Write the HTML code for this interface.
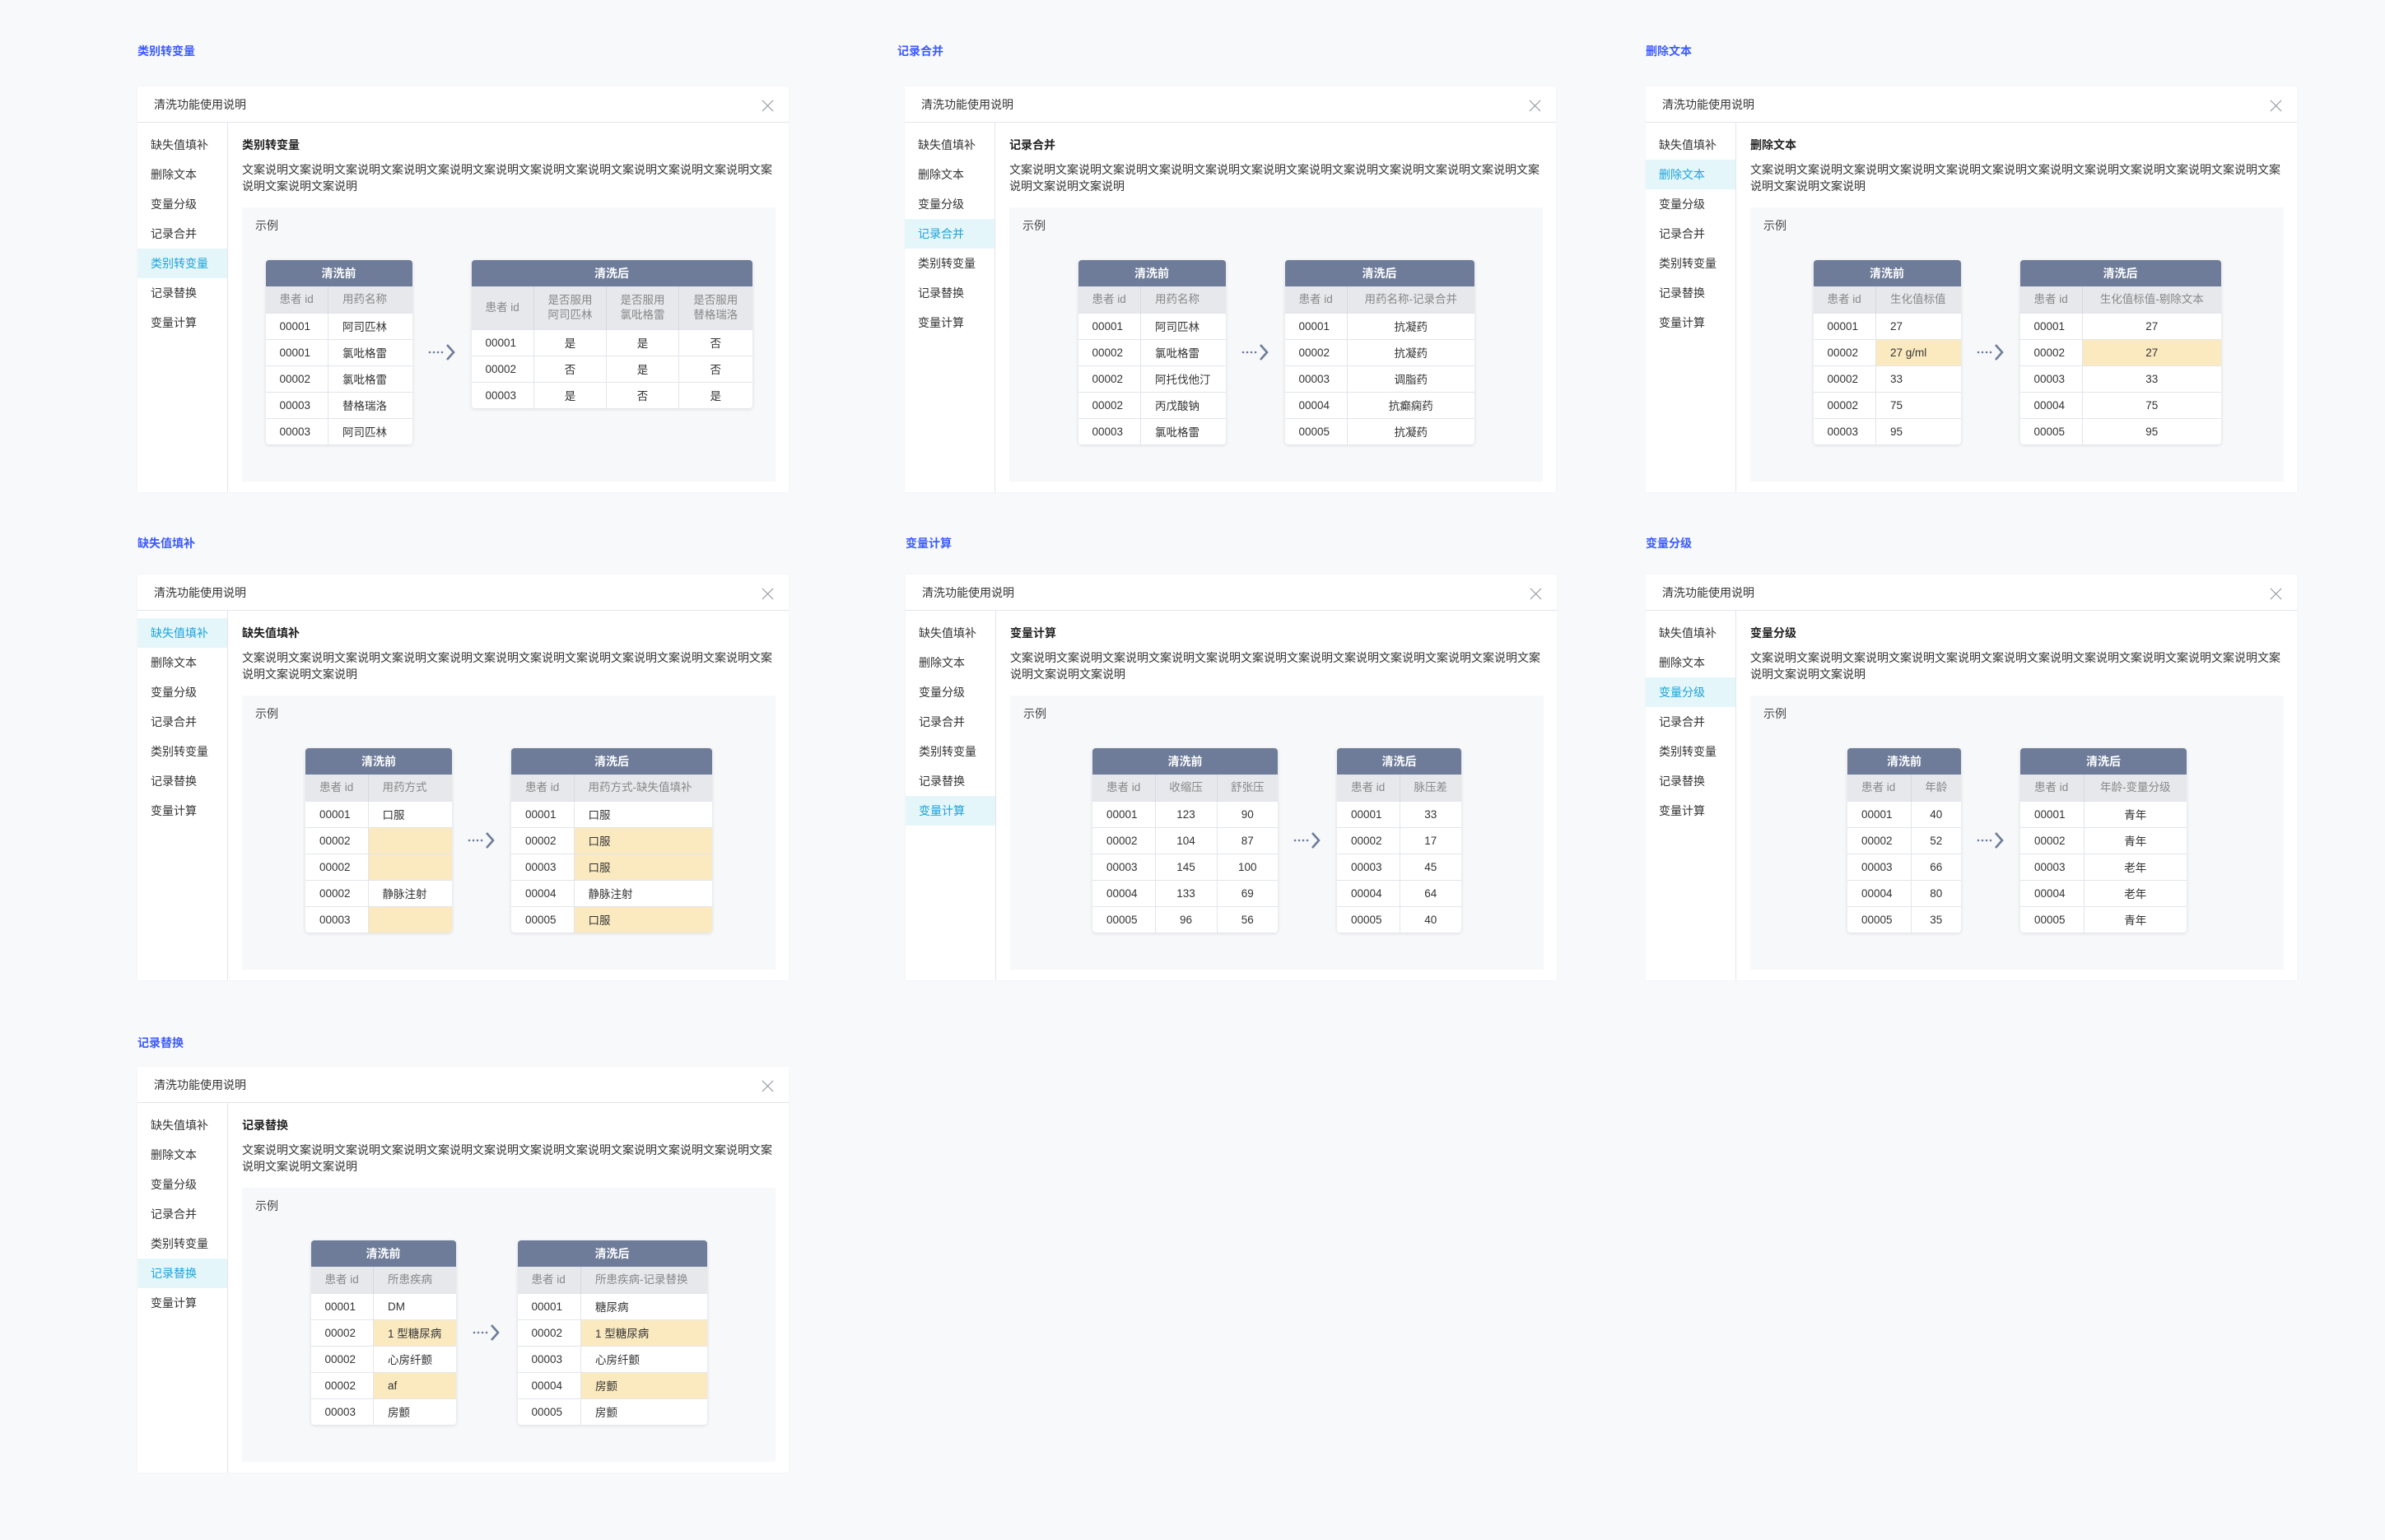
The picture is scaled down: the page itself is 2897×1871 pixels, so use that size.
<!DOCTYPE html>
<html><head><meta charset="utf-8">
<style>
*{margin:0;padding:0;box-sizing:border-box}
body{width:2897px;height:1871px;background:#f8f9fb;font-family:"Liberation Sans","Noto Sans CJK SC",sans-serif;position:relative;overflow:hidden;color:#333}
.st{position:absolute;font-size:14px;color:#3b5bfd;font-weight:bold;line-height:20px}
.p{position:absolute;width:791px;height:493px;background:#fff;box-shadow:0 0 3px rgba(0,0,0,.03)}
.hd{height:44px;border-bottom:1px solid #e3e5ea;line-height:44px;padding-left:20px;font-size:14px;color:#333}
.x{position:absolute;right:18px;top:16px}
.sb{position:absolute;left:0;top:44px;bottom:0;width:110px;border-right:1px solid #e3e5ea;padding-top:9px}
.sb div{height:36px;line-height:36px;padding-left:16px;font-size:14px;color:#333}
.sb div.a{background:#e5f6fb;color:#1ba3d8}
.tt{position:absolute;left:127px;top:61px;font-size:14px;font-weight:bold;line-height:20px;color:#222}
.ds{position:absolute;left:127px;top:91px;width:650px;font-size:14px;line-height:20px;color:#333;word-break:break-all}
.ex{position:absolute;left:127px;top:147px;width:648px;height:333px;background:#f7f8fa}
.el{position:absolute;left:16px;top:12px;font-size:14px;line-height:20px;color:#444}
.tw{position:absolute;left:0;top:64px;width:100%;display:flex;justify-content:center;align-items:flex-start}
.ar{width:72px;align-self:stretch;display:flex;align-items:center;justify-content:center;min-height:180px}
.tb{border-radius:4px;overflow:hidden;box-shadow:0 1px 4px rgba(0,0,0,.12);background:#fff}
table{border-collapse:collapse;table-layout:fixed;font-size:13.5px}
th.h{background:#6e7c99;color:#fff;height:32px;font-weight:bold;font-size:14px;text-align:center}
th.c{background:#e6e8ec;color:#888;font-weight:normal;height:32px;text-align:left;padding-left:17px;border-left:1px solid #d6d9df;line-height:18px}
th.c:first-child{border-left:none}
th.cc{text-align:center;padding-left:0}
td{height:32px;padding-left:17px;border-top:1px solid #e3e5ea;border-left:1px solid #e3e5ea;color:#333;white-space:nowrap}
td:first-child{border-left:none}
td.m{text-align:center;padding-left:0}
td.y{background:#fbeac0}
</style></head><body>

<svg width="0" height="0" style="position:absolute"><defs><symbol id="arw" viewBox="0 0 34 22"><g fill="#6e7c99"><circle cx="2" cy="11" r="1.3"/><circle cx="7" cy="11" r="1.3"/><circle cx="12" cy="11" r="1.3"/><circle cx="17" cy="11" r="1.3"/></g><path d="M23 2 L31 11 L23 20" fill="none" stroke="#6e7c99" stroke-width="2.6"/></symbol>
<symbol id="xx" viewBox="0 0 16 16"><path d="M1 1L15 15M15 1L1 15" stroke="#9aa0aa" stroke-width="1.3"/></symbol></defs></svg>

<!-- Panel 1 -->
<div class="st" style="left:167px;top:52px">类别转变量</div>
<div class="p" style="left:167px;top:105px">
<div class="hd">清洗功能使用说明</div><svg class="x" width="15" height="15"><use href="#xx"/></svg>
<div class="sb"><div>缺失值填补</div><div>删除文本</div><div>变量分级</div><div>记录合并</div><div class="a">类别转变量</div><div>记录替换</div><div>变量计算</div></div>
<div class="tt">类别转变量</div>
<div class="ds">文案说明文案说明文案说明文案说明文案说明文案说明文案说明文案说明文案说明文案说明文案说明文案说明文案说明文案说明</div>
<div class="ex"><div class="el">示例</div><div class="tw">
<div class="tb"><table><colgroup><col style="width:76px"><col style="width:102px"></colgroup>
<tr><th class="h" colspan="2">清洗前</th></tr>
<tr><th class="c">患者 id</th><th class="c">用药名称</th></tr>
<tr><td>00001</td><td>阿司匹林</td></tr><tr><td>00001</td><td>氯吡格雷</td></tr><tr><td>00002</td><td>氯吡格雷</td></tr><tr><td>00003</td><td>替格瑞洛</td></tr><tr><td>00003</td><td>阿司匹林</td></tr></table></div>
<div class="ar" style="min-height:224px"><svg width="34" height="22"><use href="#arw"/></svg></div>
<div class="tb"><table><colgroup><col style="width:76px"><col style="width:88px"><col style="width:88px"><col style="width:89px"></colgroup>
<tr><th class="h" colspan="4">清洗后</th></tr>
<tr><th class="c" style="height:52px">患者 id</th><th class="c cc">是否服用<br>阿司匹林</th><th class="c cc">是否服用<br>氯吡格雷</th><th class="c cc">是否服用<br>替格瑞洛</th></tr>
<tr><td>00001</td><td class="m">是</td><td class="m">是</td><td class="m">否</td></tr>
<tr><td>00002</td><td class="m">否</td><td class="m">是</td><td class="m">否</td></tr>
<tr><td>00003</td><td class="m">是</td><td class="m">否</td><td class="m">是</td></tr></table></div>
</div></div></div>

<!-- Panel 2 -->
<div class="st" style="left:1090px;top:52px">记录合并</div>
<div class="p" style="left:1099px;top:105px">
<div class="hd">清洗功能使用说明</div><svg class="x" width="15" height="15"><use href="#xx"/></svg>
<div class="sb"><div>缺失值填补</div><div>删除文本</div><div>变量分级</div><div class="a">记录合并</div><div>类别转变量</div><div>记录替换</div><div>变量计算</div></div>
<div class="tt">记录合并</div>
<div class="ds">文案说明文案说明文案说明文案说明文案说明文案说明文案说明文案说明文案说明文案说明文案说明文案说明文案说明文案说明</div>
<div class="ex"><div class="el">示例</div><div class="tw">
<div class="tb"><table><colgroup><col style="width:76px"><col style="width:103px"></colgroup>
<tr><th class="h" colspan="2">清洗前</th></tr>
<tr><th class="c">患者 id</th><th class="c">用药名称</th></tr>
<tr><td>00001</td><td>阿司匹林</td></tr><tr><td>00002</td><td>氯吡格雷</td></tr><tr><td>00002</td><td>阿托伐他汀</td></tr><tr><td>00002</td><td>丙戊酸钠</td></tr><tr><td>00003</td><td>氯吡格雷</td></tr></table></div>
<div class="ar" style="min-height:224px"><svg width="34" height="22"><use href="#arw"/></svg></div>
<div class="tb"><table><colgroup><col style="width:76px"><col style="width:154px"></colgroup>
<tr><th class="h" colspan="2">清洗后</th></tr>
<tr><th class="c">患者 id</th><th class="c cc">用药名称-记录合并</th></tr>
<tr><td>00001</td><td class="m">抗凝药</td></tr><tr><td>00002</td><td class="m">抗凝药</td></tr><tr><td>00003</td><td class="m">调脂药</td></tr><tr><td>00004</td><td class="m">抗癫痫药</td></tr><tr><td>00005</td><td class="m">抗凝药</td></tr></table></div>
</div></div></div>

<!-- Panel 3 -->
<div class="st" style="left:1999px;top:52px">删除文本</div>
<div class="p" style="left:1999px;top:105px">
<div class="hd">清洗功能使用说明</div><svg class="x" width="15" height="15"><use href="#xx"/></svg>
<div class="sb"><div>缺失值填补</div><div class="a">删除文本</div><div>变量分级</div><div>记录合并</div><div>类别转变量</div><div>记录替换</div><div>变量计算</div></div>
<div class="tt">删除文本</div>
<div class="ds">文案说明文案说明文案说明文案说明文案说明文案说明文案说明文案说明文案说明文案说明文案说明文案说明文案说明文案说明</div>
<div class="ex"><div class="el">示例</div><div class="tw">
<div class="tb"><table><colgroup><col style="width:76px"><col style="width:103px"></colgroup>
<tr><th class="h" colspan="2">清洗前</th></tr>
<tr><th class="c">患者 id</th><th class="c">生化值标值</th></tr>
<tr><td>00001</td><td>27</td></tr><tr><td>00002</td><td class="y">27 g/ml</td></tr><tr><td>00002</td><td>33</td></tr><tr><td>00002</td><td>75</td></tr><tr><td>00003</td><td>95</td></tr></table></div>
<div class="ar" style="min-height:224px"><svg width="34" height="22"><use href="#arw"/></svg></div>
<div class="tb"><table><colgroup><col style="width:76px"><col style="width:168px"></colgroup>
<tr><th class="h" colspan="2">清洗后</th></tr>
<tr><th class="c">患者 id</th><th class="c cc">生化值标值-剔除文本</th></tr>
<tr><td>00001</td><td class="m">27</td></tr><tr><td>00002</td><td class="m y">27</td></tr><tr><td>00003</td><td class="m">33</td></tr><tr><td>00004</td><td class="m">75</td></tr><tr><td>00005</td><td class="m">95</td></tr></table></div>
</div></div></div>

<!-- Panel 4 -->
<div class="st" style="left:167px;top:650px">缺失值填补</div>
<div class="p" style="left:167px;top:698px">
<div class="hd">清洗功能使用说明</div><svg class="x" width="15" height="15"><use href="#xx"/></svg>
<div class="sb"><div class="a">缺失值填补</div><div>删除文本</div><div>变量分级</div><div>记录合并</div><div>类别转变量</div><div>记录替换</div><div>变量计算</div></div>
<div class="tt">缺失值填补</div>
<div class="ds">文案说明文案说明文案说明文案说明文案说明文案说明文案说明文案说明文案说明文案说明文案说明文案说明文案说明文案说明</div>
<div class="ex"><div class="el">示例</div><div class="tw">
<div class="tb"><table><colgroup><col style="width:76px"><col style="width:102px"></colgroup>
<tr><th class="h" colspan="2">清洗前</th></tr>
<tr><th class="c">患者 id</th><th class="c">用药方式</th></tr>
<tr><td>00001</td><td>口服</td></tr><tr><td>00002</td><td class="y"></td></tr><tr><td>00002</td><td class="y"></td></tr><tr><td>00002</td><td>静脉注射</td></tr><tr><td>00003</td><td class="y"></td></tr></table></div>
<div class="ar" style="min-height:224px"><svg width="34" height="22"><use href="#arw"/></svg></div>
<div class="tb"><table><colgroup><col style="width:76px"><col style="width:168px"></colgroup>
<tr><th class="h" colspan="2">清洗后</th></tr>
<tr><th class="c">患者 id</th><th class="c">用药方式-缺失值填补</th></tr>
<tr><td>00001</td><td>口服</td></tr><tr><td>00002</td><td class="y">口服</td></tr><tr><td>00003</td><td class="y">口服</td></tr><tr><td>00004</td><td>静脉注射</td></tr><tr><td>00005</td><td class="y">口服</td></tr></table></div>
</div></div></div>

<!-- Panel 5 -->
<div class="st" style="left:1100px;top:650px">变量计算</div>
<div class="p" style="left:1100px;top:698px">
<div class="hd">清洗功能使用说明</div><svg class="x" width="15" height="15"><use href="#xx"/></svg>
<div class="sb"><div>缺失值填补</div><div>删除文本</div><div>变量分级</div><div>记录合并</div><div>类别转变量</div><div>记录替换</div><div class="a">变量计算</div></div>
<div class="tt">变量计算</div>
<div class="ds">文案说明文案说明文案说明文案说明文案说明文案说明文案说明文案说明文案说明文案说明文案说明文案说明文案说明文案说明</div>
<div class="ex"><div class="el">示例</div><div class="tw">
<div class="tb"><table><colgroup><col style="width:76px"><col style="width:75px"><col style="width:74px"></colgroup>
<tr><th class="h" colspan="3">清洗前</th></tr>
<tr><th class="c">患者 id</th><th class="c cc">收缩压</th><th class="c cc">舒张压</th></tr>
<tr><td>00001</td><td class="m">123</td><td class="m">90</td></tr><tr><td>00002</td><td class="m">104</td><td class="m">87</td></tr><tr><td>00003</td><td class="m">145</td><td class="m">100</td></tr><tr><td>00004</td><td class="m">133</td><td class="m">69</td></tr><tr><td>00005</td><td class="m">96</td><td class="m">56</td></tr></table></div>
<div class="ar" style="min-height:224px"><svg width="34" height="22"><use href="#arw"/></svg></div>
<div class="tb"><table><colgroup><col style="width:76px"><col style="width:75px"></colgroup>
<tr><th class="h" colspan="2">清洗后</th></tr>
<tr><th class="c">患者 id</th><th class="c cc">脉压差</th></tr>
<tr><td>00001</td><td class="m">33</td></tr><tr><td>00002</td><td class="m">17</td></tr><tr><td>00003</td><td class="m">45</td></tr><tr><td>00004</td><td class="m">64</td></tr><tr><td>00005</td><td class="m">40</td></tr></table></div>
</div></div></div>

<!-- Panel 6 -->
<div class="st" style="left:1999px;top:650px">变量分级</div>
<div class="p" style="left:1999px;top:698px">
<div class="hd">清洗功能使用说明</div><svg class="x" width="15" height="15"><use href="#xx"/></svg>
<div class="sb"><div>缺失值填补</div><div>删除文本</div><div class="a">变量分级</div><div>记录合并</div><div>类别转变量</div><div>记录替换</div><div>变量计算</div></div>
<div class="tt">变量分级</div>
<div class="ds">文案说明文案说明文案说明文案说明文案说明文案说明文案说明文案说明文案说明文案说明文案说明文案说明文案说明文案说明</div>
<div class="ex"><div class="el">示例</div><div class="tw">
<div class="tb"><table><colgroup><col style="width:77px"><col style="width:61px"></colgroup>
<tr><th class="h" colspan="2">清洗前</th></tr>
<tr><th class="c">患者 id</th><th class="c cc">年龄</th></tr>
<tr><td>00001</td><td class="m">40</td></tr><tr><td>00002</td><td class="m">52</td></tr><tr><td>00003</td><td class="m">66</td></tr><tr><td>00004</td><td class="m">80</td></tr><tr><td>00005</td><td class="m">35</td></tr></table></div>
<div class="ar" style="min-height:224px"><svg width="34" height="22"><use href="#arw"/></svg></div>
<div class="tb"><table><colgroup><col style="width:77px"><col style="width:125px"></colgroup>
<tr><th class="h" colspan="2">清洗后</th></tr>
<tr><th class="c">患者 id</th><th class="c cc">年龄-变量分级</th></tr>
<tr><td>00001</td><td class="m">青年</td></tr><tr><td>00002</td><td class="m">青年</td></tr><tr><td>00003</td><td class="m">老年</td></tr><tr><td>00004</td><td class="m">老年</td></tr><tr><td>00005</td><td class="m">青年</td></tr></table></div>
</div></div></div>

<!-- Panel 7 -->
<div class="st" style="left:167px;top:1257px">记录替换</div>
<div class="p" style="left:167px;top:1296px">
<div class="hd">清洗功能使用说明</div><svg class="x" width="15" height="15"><use href="#xx"/></svg>
<div class="sb"><div>缺失值填补</div><div>删除文本</div><div>变量分级</div><div>记录合并</div><div>类别转变量</div><div class="a">记录替换</div><div>变量计算</div></div>
<div class="tt">记录替换</div>
<div class="ds">文案说明文案说明文案说明文案说明文案说明文案说明文案说明文案说明文案说明文案说明文案说明文案说明文案说明文案说明</div>
<div class="ex"><div class="el">示例</div><div class="tw">
<div class="tb"><table><colgroup><col style="width:76px"><col style="width:100px"></colgroup>
<tr><th class="h" colspan="2">清洗前</th></tr>
<tr><th class="c">患者 id</th><th class="c">所患疾病</th></tr>
<tr><td>00001</td><td>DM</td></tr><tr><td>00002</td><td class="y">1 型糖尿病</td></tr><tr><td>00002</td><td>心房纤颤</td></tr><tr><td>00002</td><td class="y">af</td></tr><tr><td>00003</td><td>房颤</td></tr></table></div>
<div class="ar" style="min-height:224px;width:75px"><svg width="34" height="22"><use href="#arw"/></svg></div>
<div class="tb"><table><colgroup><col style="width:77px"><col style="width:153px"></colgroup>
<tr><th class="h" colspan="2">清洗后</th></tr>
<tr><th class="c">患者 id</th><th class="c">所患疾病-记录替换</th></tr>
<tr><td>00001</td><td>糖尿病</td></tr><tr><td>00002</td><td class="y">1 型糖尿病</td></tr><tr><td>00003</td><td>心房纤颤</td></tr><tr><td>00004</td><td class="y">房颤</td></tr><tr><td>00005</td><td>房颤</td></tr></table></div>
</div></div></div>

</body></html>
